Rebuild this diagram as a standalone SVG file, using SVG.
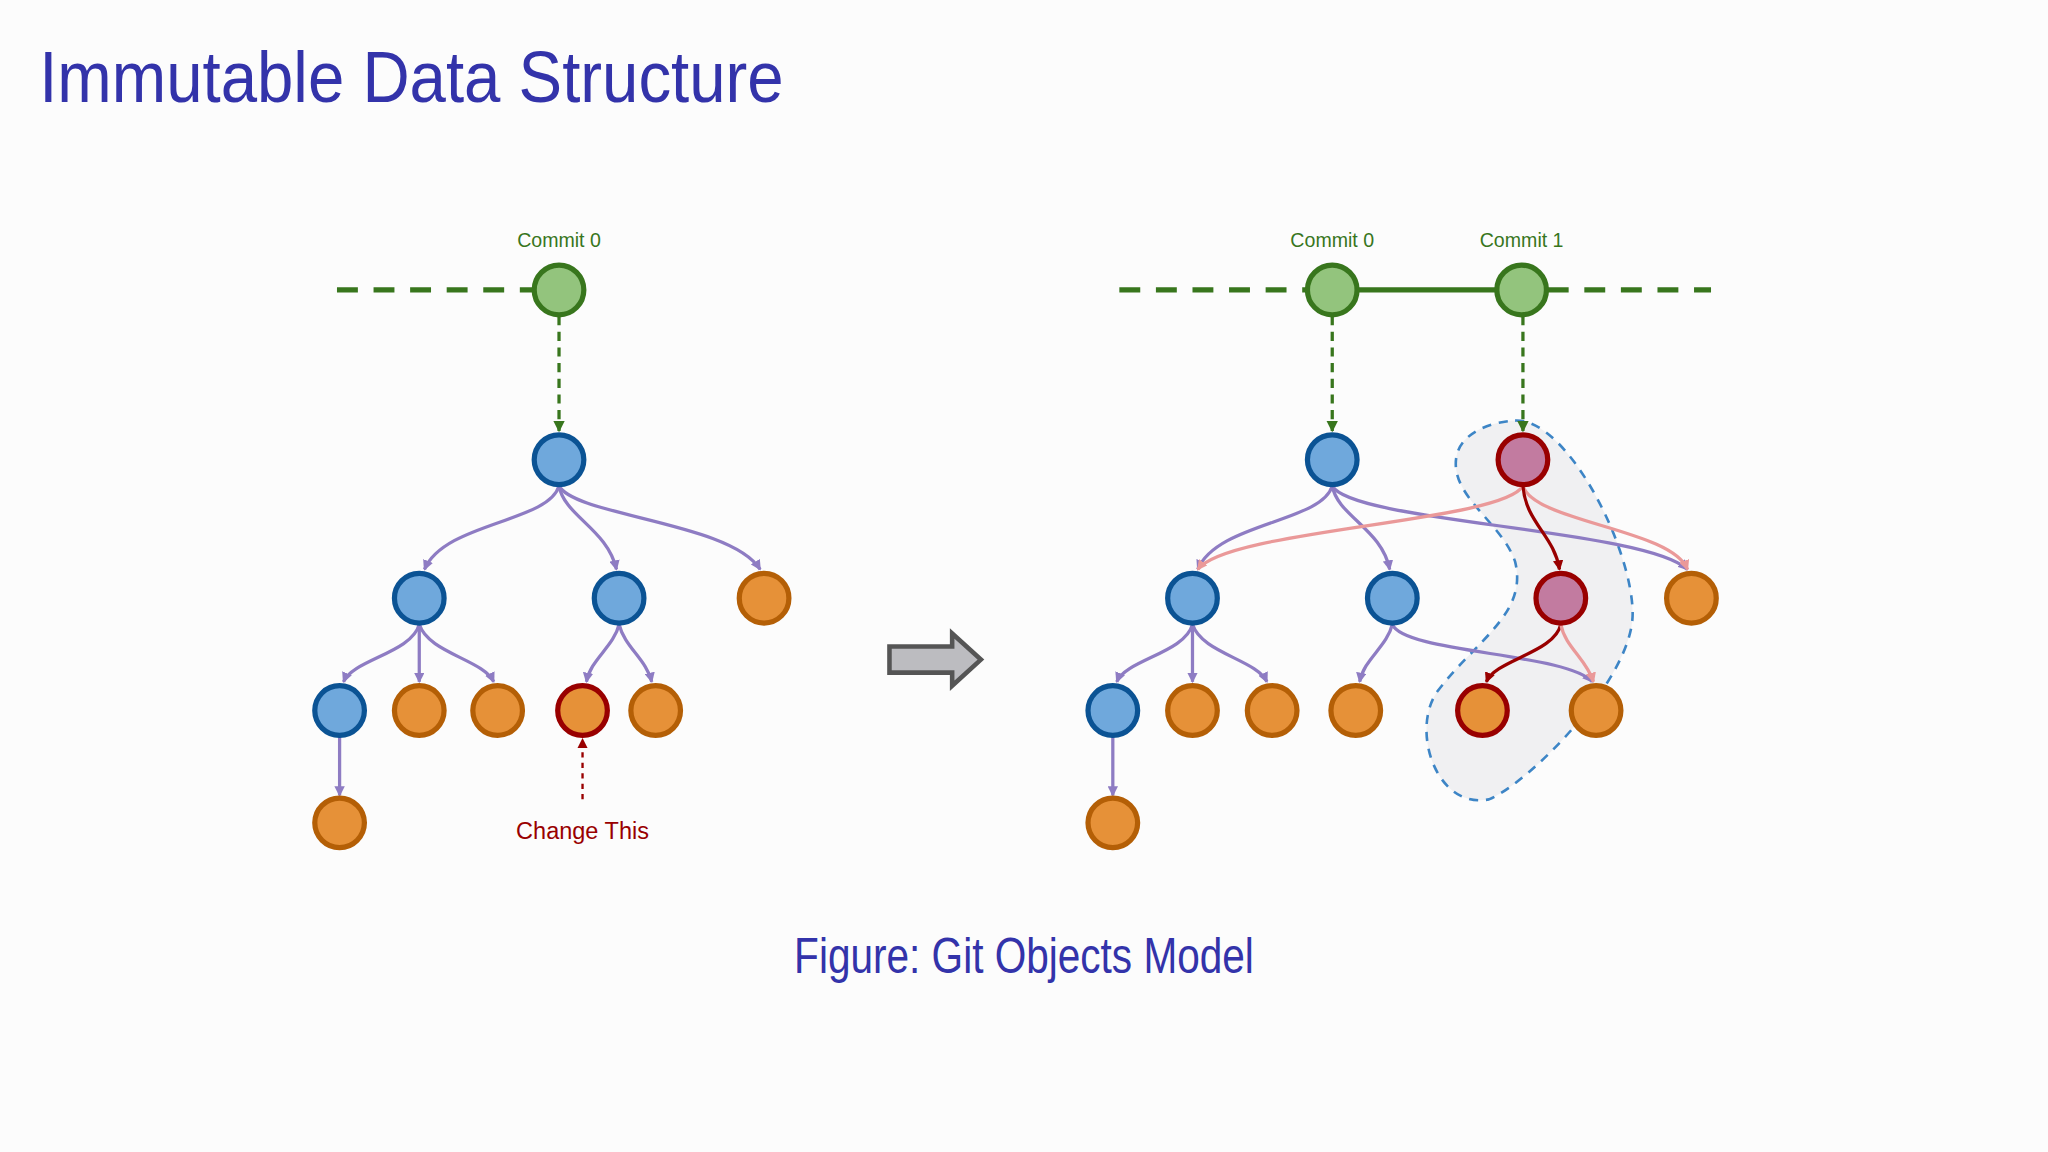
<svg xmlns="http://www.w3.org/2000/svg" width="2048" height="1152" viewBox="0 0 2048 1152">
<defs>
<style>
.t{font-family:"Liberation Sans",Arial,sans-serif}
.b circle{fill:#6fa8dc;stroke:#0b5394;stroke-width:4}
.o circle{fill:#e69138;stroke:#b45f06;stroke-width:4}
.ro circle{fill:#e69138;stroke:#990000;stroke-width:4}
.g circle{fill:#93c47d;stroke:#38761d;stroke-width:4}
.p circle{fill:#c27ba0;stroke:#990000;stroke-width:4}
.e{fill:none;stroke:#8e7cc3;stroke-width:2.5}
.pe{fill:none;stroke:#ea9999;stroke-width:2.5}
.de{fill:none;stroke:#990000;stroke-width:2.5}
</style>
<marker id="mp" markerWidth="8" markerHeight="8" refX="7" refY="4" orient="auto" markerUnits="userSpaceOnUse" viewBox="0 0 8 8"><path d="M0,0L8,4L0,8z" fill="#8e7cc3"/></marker>
<marker id="mk" markerWidth="8" markerHeight="8" refX="7" refY="4" orient="auto" markerUnits="userSpaceOnUse" viewBox="0 0 8 8"><path d="M0,0L8,4L0,8z" fill="#ea9999"/></marker>
<marker id="md" markerWidth="8" markerHeight="8" refX="7" refY="4" orient="auto" markerUnits="userSpaceOnUse" viewBox="0 0 8 8"><path d="M0,0L8,4L0,8z" fill="#990000"/></marker>
<marker id="mg" markerWidth="9" markerHeight="9" refX="8" refY="4.5" orient="auto" markerUnits="userSpaceOnUse" viewBox="0 0 9 9"><path d="M0,0L9,4.5L0,9z" fill="#38761d"/></marker>
</defs>
<rect width="2048" height="1152" fill="#fcfcfc"/>
<g transform="scale(1.30612)">
<text class="t" x="30" y="78" font-size="56" fill="#3333aa" textLength="570" lengthAdjust="spacingAndGlyphs">Immutable Data Structure</text>
<text class="t" x="784" y="745" font-size="38" fill="#3333aa" text-anchor="middle" textLength="352" lengthAdjust="spacingAndGlyphs">Figure: Git Objects Model</text>

<g id="blob"><path d="M1160,322 C1200,320 1250,420 1250,470 C1250,520 1170,600 1140,612 C1100,620 1080,560 1100,530 C1130,490 1170,470 1160,430 C1150,400 1110,380 1115,350 C1118,332 1140,323 1160,322 Z" fill="#f0f0f2" stroke="#3d85c6" stroke-width="2" stroke-dasharray="7,6"/></g>

<g id="connectors">
<path d="M258,222H408" stroke="#38761d" stroke-width="4" stroke-dasharray="16,12"/>
<path d="M428,242V330" stroke="#38761d" stroke-width="2.5" stroke-dasharray="7,5" marker-end="url(#mg)"/>
<path class="e" d="M428,372 C420,400 340,400 325,436" marker-end="url(#mp)"/>
<path class="e" d="M428,372 C432,395 465,405 472,436" marker-end="url(#mp)"/>
<path class="e" d="M428,372 C440,395 560,400 582,436" marker-end="url(#mp)"/>
<path class="e" d="M321,478 C315,500 270,505 263,522" marker-end="url(#mp)"/>
<path class="e" d="M321,478 V522" marker-end="url(#mp)"/>
<path class="e" d="M321,478 C328,500 370,505 378,522" marker-end="url(#mp)"/>
<path class="e" d="M474,478 C470,495 452,505 449,522" marker-end="url(#mp)"/>
<path class="e" d="M474,478 C478,495 495,505 499,522" marker-end="url(#mp)"/>
<path class="e" d="M260,564 V609" marker-end="url(#mp)"/>
<path d="M446,612 V566" stroke="#990000" stroke-width="1.8" stroke-dasharray="4,4" fill="none" marker-end="url(#md)"/>

<path d="M857,222H1000M1185,222H1310" stroke="#38761d" stroke-width="4" stroke-dasharray="16,12"/>
<path d="M1039,222H1146" stroke="#38761d" stroke-width="4"/>
<path d="M1020,242V330" stroke="#38761d" stroke-width="2.5" stroke-dasharray="7,5" marker-end="url(#mg)"/>
<path d="M1166,242V330" stroke="#38761d" stroke-width="2.5" stroke-dasharray="7,5" marker-end="url(#mg)"/>
<path class="e" d="M1020,372 C1012,400 932,400 917,436" marker-end="url(#mp)"/>
<path class="e" d="M1020,372 C1024,395 1058,405 1064,436" marker-end="url(#mp)"/>
<path class="e" d="M1020,372 C1035,400 1260,405 1292,436" marker-end="url(#mp)"/>
<path class="pe" d="M1166,372 C1150,400 940,405 917,436" marker-end="url(#mk)"/>
<path class="pe" d="M1166,372 C1175,400 1280,405 1292,436" marker-end="url(#mk)"/>
<path class="de" d="M1166,372 C1168,400 1190,410 1194,436" marker-end="url(#md)"/>
<path class="e" d="M913,478 C907,500 862,505 855,522" marker-end="url(#mp)"/>
<path class="e" d="M913,478 V522" marker-end="url(#mp)"/>
<path class="e" d="M913,478 C920,500 962,505 970,522" marker-end="url(#mp)"/>
<path class="e" d="M1066,478 C1062,495 1044,505 1041,522" marker-end="url(#mp)"/>
<path class="e" d="M1066,478 C1075,500 1200,500 1219,522" marker-end="url(#mp)"/>
<path class="de" d="M1195,478 C1190,500 1145,505 1138,522" marker-end="url(#md)"/>
<path class="pe" d="M1195,478 C1198,495 1215,505 1220,522" marker-end="url(#mk)"/>
<path class="e" d="M852,564 V609" marker-end="url(#mp)"/>
</g>

<g id="arrow"><path d="M681,495 H729 V485 L751,505 L729,525 V515 H681 Z" fill="#bcbcc0" stroke="#555" stroke-width="3.5" stroke-linejoin="miter"/></g>

<g id="L-commit0" class="g"><text class="t" x="428" y="189" font-size="15" fill="#38761d" text-anchor="middle">Commit 0</text><circle cx="428" cy="222" r="19"/></g>
<g id="L-root" class="b"><circle cx="428" cy="352" r="19"/></g>
<g id="L-a" class="b"><circle cx="321" cy="458" r="19"/></g>
<g id="L-b" class="b"><circle cx="474" cy="458" r="19"/></g>
<g id="L-c" class="o"><circle cx="585" cy="458" r="19"/></g>
<g id="L-d" class="b"><circle cx="260" cy="544" r="19"/></g>
<g id="L-e" class="o"><circle cx="321" cy="544" r="19"/></g>
<g id="L-f" class="o"><circle cx="381" cy="544" r="19"/></g>
<g id="L-g" class="ro"><circle cx="446" cy="544" r="19"/></g>
<g id="L-h" class="o"><circle cx="502" cy="544" r="19"/></g>
<g id="L-i" class="o"><circle cx="260" cy="630" r="19"/></g>
<g id="L-label"><text class="t" x="446" y="642" font-size="18" fill="#990000" text-anchor="middle">Change This</text></g>

<g id="R-commit0" class="g"><text class="t" x="1020" y="189" font-size="15" fill="#38761d" text-anchor="middle">Commit 0</text><circle cx="1020" cy="222" r="19"/></g>
<g id="R-commit1" class="g"><text class="t" x="1165" y="189" font-size="15" fill="#38761d" text-anchor="middle">Commit 1</text><circle cx="1165" cy="222" r="19"/></g>
<g id="R-root0" class="b"><circle cx="1020" cy="352" r="19"/></g>
<g id="R-root1" class="p"><circle cx="1166" cy="352" r="19"/></g>
<g id="R-a" class="b"><circle cx="913" cy="458" r="19"/></g>
<g id="R-b" class="b"><circle cx="1066" cy="458" r="19"/></g>
<g id="R-b2" class="p"><circle cx="1195" cy="458" r="19"/></g>
<g id="R-c" class="o"><circle cx="1295" cy="458" r="19"/></g>
<g id="R-d" class="b"><circle cx="852" cy="544" r="19"/></g>
<g id="R-e" class="o"><circle cx="913" cy="544" r="19"/></g>
<g id="R-f" class="o"><circle cx="974" cy="544" r="19"/></g>
<g id="R-g" class="o"><circle cx="1038" cy="544" r="19"/></g>
<g id="R-g2" class="ro"><circle cx="1135" cy="544" r="19"/></g>
<g id="R-h" class="o"><circle cx="1222" cy="544" r="19"/></g>
<g id="R-i" class="o"><circle cx="852" cy="630" r="19"/></g>
</g>
</svg>
